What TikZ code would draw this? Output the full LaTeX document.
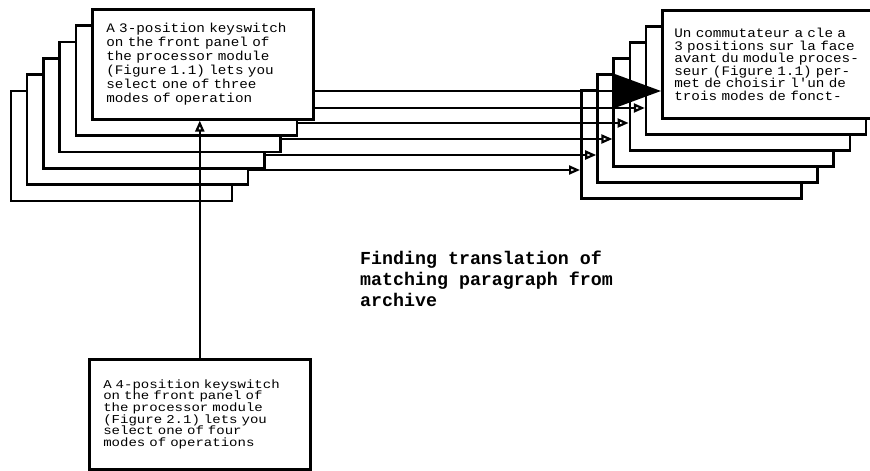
\documentclass[tikz,border=0pt]{standalone}
\usepackage{fontspec}
\setmonofont{Liberation Mono}
\newfontfamily\wide[FakeStretch=1.1]{Liberation Mono}
\newfontfamily\wider[FakeStretch=1.17]{Liberation Mono}
\usetikzlibrary{arrows.meta}
\begin{document}
\begin{tikzpicture}[x=1pt,y=-1pt,
  box/.style={draw, fill=white, line width=2.6pt, anchor=north west, inner ysep=0pt, align=left},
  lbox/.style={box, minimum height=110pt, inner xsep=14pt, text width=193pt, font=\wide\fontsize{13}{14}\selectfont},
  rbox/.style={box, minimum height=108pt, inner xsep=12pt, text width=196pt, font=\wide\fontsize{13}{12.5}\selectfont},
  bbox/.style={box, minimum height=110pt, inner xsep=14pt, text width=193pt, font=\wider\fontsize{12}{11.7}\selectfont},
  caption/.style={anchor=north west, inner sep=0pt, align=left, font=\ttfamily\bfseries\fontsize{18.3}{21}\selectfont},
  conn/.style={draw, line width=2.2pt},
  smalltip/.style={-{Triangle[length=11pt, width=9pt, fill=white]}},
  bigtip/.style={-{Triangle[length=47pt, width=34pt]}}
]
\useasboundingbox (0,0) rectangle (870,471);
% right stack
\foreach \k in {5,4,3,2,1} {
  \node[rbox] (R\k) at ({661-16.2*\k},{9+16*\k}) {};
}
\node[rbox] (R0) at (661,9) {Un commutateur a cle a\\3 positions sur la face\\avant du module proces-\\seur (Figure 1.1) per-\\met de choisir l'un de\\trois modes de fonct-};
% left stack
\foreach \k in {5,4,3,2,1} {
  \node[lbox] (L\k) at ({91-16.3*\k},{8+16.3*\k}) {};
}
\node[lbox] (L0) at (91,8) {A 3-position keyswitch\\on the front panel of\\the processor module\\(Figure 1.1) lets you\\select one of three\\modes of operation};
% bottom box
\node[bbox] (B) at (88,358) {A 4-position keyswitch\\on the front panel of\\the processor module\\(Figure 2.1) lets you\\select one of four\\modes of operations};
% caption
\node[caption] (cap) at (360,251) {Finding translation of\\matching paragraph from\\archive};
% connectors
\draw[conn, bigtip] (L0.east |- 0,91) -- (R0.west |- 0,91);
\draw[conn, smalltip] (L0.east |- 0,108) -- (R1.west |- 0,108);
\draw[conn, smalltip] (L1.east |- 0,123) -- (R2.west |- 0,123);
\draw[conn, smalltip] (L2.east |- 0,139) -- (R3.west |- 0,139);
\draw[conn, smalltip] (L3.east |- 0,155) -- (R4.west |- 0,155);
\draw[conn, smalltip] (L4.east |- 0,170) -- (R5.west |- 0,170);
\draw[conn, smalltip] (B.north) -- (B.north |- L0.south);
\end{tikzpicture}
\end{document}
